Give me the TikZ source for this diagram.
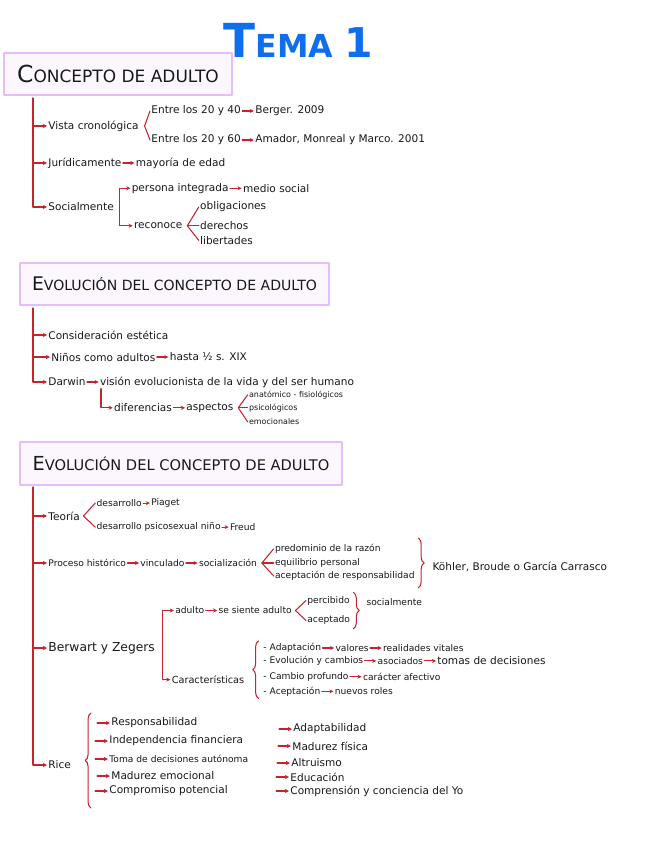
\documentclass[tikz,border=0pt]{standalone}
\usepackage{fontspec}
\setmainfont{DejaVu Sans}
\usetikzlibrary{arrows.meta,positioning,decorations.pathreplacing}
\definecolor{rojo}{RGB}{200,35,45}
\definecolor{lila}{RGB}{228,190,250}
\definecolor{lilafondo}{RGB}{252,246,255}
\definecolor{azul}{RGB}{15,110,235}
\definecolor{tinta}{RGB}{25,25,25}
\newcommand{\Tit}[4]{{\fontsize{#1}{#1}\selectfont #3}{\fontsize{#2}{#2}\selectfont #4}}

\begin{document}
\begin{tikzpicture}[x=0.03cm, y=-0.03cm, line cap=round, line join=round,
  txt/.style={inner sep=1pt, anchor=west, text=tinta, font=\fontsize{9}{11}\selectfont},
  chico/.style={txt, font=\fontsize{7.8}{9}\selectfont},
  peq/.style={txt, font=\fontsize{6.8}{8}\selectfont},
  grande/.style={txt, font=\fontsize{10.5}{12}\selectfont},
  caja/.style={draw=lila, fill=lilafondo, line width=1.4pt, text=tinta, inner sep=2pt},
  rama/.style={draw=rojo, line width=0.9pt},
  arr/.style={rama, -{Stealth[length=3.5pt,width=3.5pt]}},
  llave/.style={rama, decorate, decoration={brace, amplitude=5pt}}]

\path[fill=white, use as bounding box] (0,0) rectangle (656,848);

% titulo
\node[text=azul, font=\bfseries, inner sep=0pt] (T) at (298,40)
  {\fontsize{40}{40}\selectfont T\fontsize{27}{27}\selectfont EMA \fontsize{35}{35}\selectfont 1};

% concepto de adulto
\node[caja, minimum width=6.84cm, minimum height=1.26cm] (C1) at (118,74)
  {\Tit{20}{14.5}{C}{ONCEPTO DE ADULTO}};

\coordinate (L1) at (33,98);
\node[txt] (VC) at (47,126) {Vista cronológica};
\node[txt] (JU) at (47,163) {Jurídicamente};
\node[txt] (SO) at (47,207) {Socialmente};
\draw[arr] (L1) |- (SO);
\draw[arr] (L1 |- VC) -- (VC);
\draw[arr] (L1 |- JU) -- (JU);

\node[txt] (E1) at (150,111) {Entre los 20 y 40};
\node[txt] (E2) at (150,140) {Entre los 20 y 60};
\draw[rama] (E1.west) -- ([xshift=4pt]VC.east) -- (E2.west);
\node[txt, right=0.35cm of E1] (BE) {Berger. 2009};
\node[txt, right=0.35cm of E2] (AM) {Amador, Monreal y Marco. 2001};
\draw[arr] (E1) -- (BE);
\draw[arr] (E2) -- (AM);

\node[txt, right=0.35cm of JU] (MA) {mayoría de edad};
\draw[arr] (JU) -- (MA);

\coordinate (S1) at ([xshift=4pt]SO.east);
\node[txt] (PI) at ([xshift=9pt, yshift=16pt]S1) {persona integrada};
\node[txt] (RE) at ([xshift=11pt, yshift=-16pt]S1) {reconoce};
\draw[arr] (S1) |- (PI);
\draw[arr] (S1) |- (RE);
\node[txt, right=0.35cm of PI] (MS) {medio social};
\draw[arr] (PI) -- (MS);
\node[txt, right=0.45cm of RE] (DE) {derechos};
\node[txt] (OB) at ([yshift=16pt]DE.west) {obligaciones};
\node[txt] (LI) at ([yshift=-12.5pt]DE.west) {libertades};
\draw[rama] (OB.west) -- ([xshift=3pt]RE.east) -- (LI.west);
\draw[rama] ([xshift=3pt]RE.east) -- (DE.west);

% evolucion (1)
\node[caja, minimum width=9.27cm, minimum height=1.26cm] (C2) at (174.5,284)
  {\Tit{16}{12}{E}{VOLUCIÓN DEL CONCEPTO DE ADULTO}};

\coordinate (L2) at (33,308);
\node[txt] (CE) at (47,335) {Consideración estética};
\node[txt] (NI) at (50,357) {Niños como adultos};
\node[txt] (DA) at (47,382) {Darwin};
\draw[arr] (L2) |- (DA);
\draw[arr] (L2 |- CE) -- (CE);
\draw[arr] (L2 |- NI) -- (NI);

\node[txt, right=0.35cm of NI] (HA) {hasta ½ s. XIX};
\draw[arr] (NI) -- (HA);
\node[txt, right=0.35cm of DA] (VI) {visión evolucionista de la vida y del ser humano};
\draw[arr] (DA) -- (VI);

\node[txt] (DI) at ([xshift=12pt, yshift=-22pt]VI.west) {diferencias};
\draw[arr] ([xshift=2pt]VI.south west) |- (DI);
\node[txt, right=0.35cm of DI] (AS) {aspectos};
\draw[arr] (DI) -- (AS);
\node[peq] (PS) at ([xshift=11pt]AS.east) {psicológicos};
\node[peq] (AF) at ([yshift=11pt]PS.west) {anatómico - fisiológicos};
\node[peq] (EM) at ([yshift=-12pt]PS.west) {emocionales};
\draw[rama] (AF.west) -- ([xshift=3pt]AS.east) -- (EM.west);
\draw[rama] ([xshift=3pt]AS.east) -- (PS.west);

% evolucion (2)
\node[caja, minimum width=9.66cm, minimum height=1.29cm] (C3) at (181,463.5)
  {\Tit{16.5}{12.5}{E}{VOLUCIÓN DEL CONCEPTO DE ADULTO}};

\coordinate (L3) at (33,487);
\node[txt] (TE) at (47,516) {Teoría};
\node[chico] (PH) at (47,563) {Proceso histórico};
\node[grande] (BZ) at (47,648) {Berwart y Zegers};
\node[txt] (RI) at (47,765) {Rice};
\draw[arr] (L3) |- (RI);
\draw[arr] (L3 |- TE) -- (TE);
\draw[arr] (L3 |- PH) -- (PH);
\draw[arr] (L3 |- BZ) -- (BZ);

% teoria
\node[chico] (D1) at ([xshift=12pt, yshift=11pt]TE.east) {desarrollo};
\node[chico] (D2) at ([xshift=12pt, yshift=-9.5pt]TE.east) {desarrollo psicosexual niño};
\draw[rama] (D1.west) -- ([xshift=2pt]TE.east) -- (D2.west);
\node[chico, right=0.2cm of D1] (PG) {Piaget};
\node[chico, right=0.2cm of D2] (FR) {Freud};
\draw[arr] (D1) -- (PG);
\draw[arr] (D2) -- (FR);

% proceso historico
\node[chico, right=0.35cm of PH] (VN) {vinculado};
\node[chico, right=0.35cm of VN] (SZ) {socialización};
\draw[arr] (PH) -- (VN);
\draw[arr] (VN) -- (SZ);
\node[chico] (EQ) at ([xshift=13pt]SZ.east) {equilibrio personal};
\node[chico] (PR) at ([yshift=12pt]EQ.west) {predominio de la razón};
\node[chico] (AC) at ([yshift=-11pt]EQ.west) {aceptación de responsabilidad};
\draw[rama] (PR.west) -- ([xshift=3pt]SZ.east) -- (AC.west);
\draw[rama] ([xshift=3pt]SZ.east) -- (EQ.west);
\coordinate (K1) at (AC.east |- PR.north);
\coordinate (K2) at (AC.east |- AC.south);
\draw[llave] ([xshift=2pt, yshift=4pt]K1) -- ([xshift=2pt, yshift=-5pt]K2);
\coordinate (K0) at (K1 |- EQ.west);
\node[txt] (KO) at ([xshift=13pt, yshift=-3pt]K0) {Köhler, Broude o García Carrasco};

% berwart y zegers
\coordinate (B1) at ([xshift=5pt]BZ.east);
\node[chico] (AD) at ([xshift=10pt, yshift=32pt]B1) {adulto};
\node[txt, font=\fontsize{8.3}{9}\selectfont] (CA) at ([xshift=7pt, yshift=-27pt]B1) {Características};
\draw[arr] (B1) |- (AD);
\draw[arr] (B1) |- (CA);
\node[chico, right=0.35cm of AD] (SS) {se siente adulto};
\draw[arr] (AD) -- (SS);
\node[chico] (PC) at ([xshift=11pt, yshift=8.5pt]SS.east) {percibido};
\node[chico] (AT) at ([xshift=11pt, yshift=-8.5pt]SS.east) {aceptado};
\draw[rama] (PC.west) -- ([xshift=2pt]SS.east) -- (AT.west);
\coordinate (K3) at (PC.north east);
\coordinate (K4) at (PC.east |- AT.south);
\draw[llave] ([xshift=2pt, yshift=2pt]K3) -- ([xshift=2pt, yshift=-2pt]K4);
\node[chico] (SM) at ([xshift=12pt, yshift=-6pt]K3) {socialmente};

\node[chico] (I1) at ([xshift=14pt, yshift=27pt]CA.east) {- Adaptación};
\node[chico] (I2) at ([xshift=14pt, yshift=16pt]CA.east) {- Evolución y cambios};
\node[chico] (I3) at ([xshift=14pt, yshift=2.5pt]CA.east) {- Cambio profundo};
\node[chico] (I4) at ([xshift=14pt, yshift=-10pt]CA.east) {- Aceptación};
\draw[llave] ([xshift=-3pt, yshift=-6pt]I4.west) -- ([xshift=-3pt, yshift=6pt]I1.west);
\node[chico, right=0.35cm of I1] (VA) {valores};
\node[chico, right=0.35cm of VA] (RV) {realidades vitales};
\draw[arr] (I1) -- (VA);
\draw[arr] (VA) -- (RV);
\node[chico, right=0.35cm of I2] (AO) {asociados};
\node[txt, right=0.35cm of AO] (TD) {tomas de decisiones};
\draw[arr] (I2) -- (AO);
\draw[arr] (AO) -- (TD);
\node[chico, right=0.35cm of I3] (CF) {carácter afectivo};
\draw[arr] (I3) -- (CF);
\node[chico, right=0.35cm of I4] (NR) {nuevos roles};
\draw[arr] (I4) -- (NR);

% rice
\draw[llave] (91,808) -- (91,713);
\node[txt] (R1) at (110,723) {Responsabilidad};
\node[txt] (R2) at (108,741) {Independencia financiera};
\node[chico] (R3) at (108,759) {Toma de decisiones autónoma};
\node[txt] (R4) at (110,776) {Madurez emocional};
\node[txt] (R5) at (108,791) {Compromiso potencial};
\draw[arr] ([xshift=-11pt]R1.west) -- (R1);
\draw[arr] ([xshift=-11pt]R2.west) -- (R2);
\draw[arr] ([xshift=-11pt]R3.west) -- (R3);
\draw[arr] ([xshift=-11pt]R4.west) -- (R4);
\draw[arr] ([xshift=-11pt]R5.west) -- (R5);

\node[txt] (A1) at (292,729) {Adaptabilidad};
\node[txt] (A2) at (291,746) {Madurez física};
\node[txt] (A3) at (290,763) {Altruismo};
\node[txt] (A4) at (289,777) {Educación};
\node[txt] (A5) at (289,791) {Comprensión y conciencia del Yo};
\draw[arr] ([xshift=-11pt]A1.west) -- (A1);
\draw[arr] ([xshift=-11pt]A2.west) -- (A2);
\draw[arr] ([xshift=-11pt]A3.west) -- (A3);
\draw[arr] ([xshift=-11pt]A4.west) -- (A4);
\draw[arr] ([xshift=-11pt]A5.west) -- (A5);
\end{tikzpicture}
\end{document}
